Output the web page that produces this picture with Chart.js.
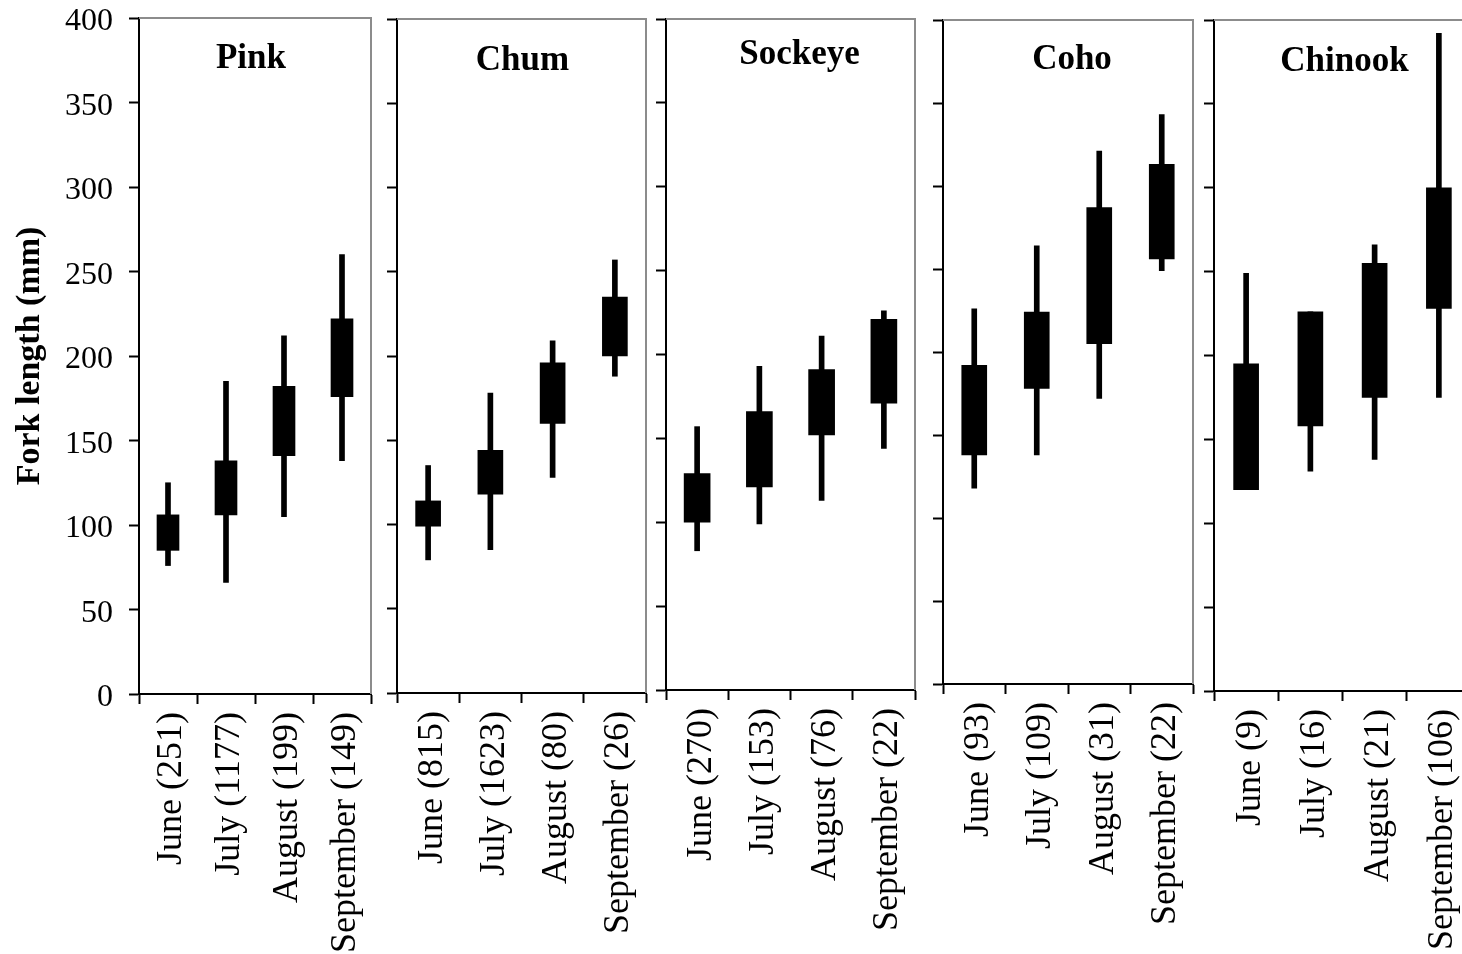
<!DOCTYPE html>
<html>
<head>
<meta charset="utf-8">
<script src="https://cdn.jsdelivr.net/npm/chart.js@4.4.1/dist/chart.umd.min.js"></script>
<style>
  html, body { margin: 0; padding: 0; background: #fff; overflow: hidden; }
  #wrap { position: relative; width: 1462px; height: 954px; overflow: hidden; }
  canvas { position: absolute; top: 0; }
</style>
</head>
<body>
<div id="wrap"></div>
<script>
// panel names and month labels (sample size in brackets)
const species = ['Pink', 'Chum', 'Sockeye', 'Coho', 'Chinook'];
const pinkLabels = ['June (251)', 'July (1177)', 'August (199)', 'September (149)'];
const chumLabels = ['June (815)', 'July (1623)', 'August (80)', 'September (26)'];
const sockeyeLabels = ['June (270)', 'July (153)', 'August (76)', 'September (22)'];
const cohoLabels = ['June (93)', 'July (109)', 'August (31)', 'September (22)'];
const chinookLabels = ['June (9)', 'July (16)', 'August (21)', 'September (106)'];

const yTicks = [0, 50, 100, 150, 200, 250, 300, 350, 400];

// fork length (mm): whisker low, box low, box high, whisker high
const pinkLow = [76, 66, 105, 138];
const pinkQ1 = [85, 106, 141, 176];
const pinkQ3 = [106, 138, 182, 222];
const pinkHigh = [125, 185, 212, 260];

const chumLow = [79, 85, 128, 188];
const chumQ1 = [99, 118, 160, 200];
const chumQ3 = [114, 144, 196, 235];
const chumHigh = [135, 178, 209, 257];

const sockeyeLow = [83, 99, 113, 144];
const sockeyeQ1 = [100, 121, 152, 171];
const sockeyeQ3 = [129, 166, 191, 221];
const sockeyeHigh = [157, 193, 211, 226];

const cohoLow = [118, 138, 172, 249];
const cohoQ1 = [138, 178, 205, 256];
const cohoQ3 = [192, 224, 287, 313];
const cohoHigh = [226, 264, 321, 343];

const chinookLow = [120, 131, 138, 175];
const chinookQ1 = [120, 158, 175, 228];
const chinookQ3 = [195, 226, 255, 300];
const chinookHigh = [249, 226, 266, 392];

const panelData = [
  [pinkLabels, pinkLow, pinkQ1, pinkQ3, pinkHigh],
  [chumLabels, chumLow, chumQ1, chumQ3, chumHigh],
  [sockeyeLabels, sockeyeLow, sockeyeQ1, sockeyeQ3, sockeyeHigh],
  [cohoLabels, cohoLow, cohoQ1, cohoQ3, cohoHigh],
  [chinookLabels, chinookLow, chinookQ1, chinookQ3, chinookHigh],
];

// where each panel sits on the page
const panelBox = [
  { left: 139, right: 371, top: 18, bottom: 694, axisW: 139, bar: 22, dx: -4, dy: 50 },
  { left: 397, right: 646, top: 19, bottom: 693, axisW: 14, bar: 25, dx: 1, dy: 51 },
  { left: 666, right: 915, top: 19, bottom: 690, axisW: 14, bar: 26, dx: 9, dy: 45 },
  { left: 943, right: 1193, top: 20, bottom: 684, axisW: 14, bar: 25, dx: 4, dy: 49 },
  { left: 1214, right: 1471, top: 20, bottom: 691, axisW: 14, bar: 25, dx: 2, dy: 51 },
];

const H = 954;
const serif = '"Liberation Serif", "Times New Roman", serif';
Chart.defaults.font.family = serif;
Chart.defaults.color = '#000';

// grey frame on top/right plus the species name inside the panel
const panelDeco = {
  id: 'panelDeco',
  beforeDatasetsDraw(chart, args, opts) {
    const { ctx, chartArea: a } = chart;
    ctx.save();
    ctx.strokeStyle = '#8c8c8c';
    ctx.lineWidth = 2;
    ctx.beginPath();
    ctx.moveTo(a.left, a.top);
    ctx.lineTo(a.right, a.top);
    ctx.lineTo(a.right, a.bottom);
    ctx.stroke();
    ctx.font = 'bold 35px ' + serif;
    ctx.fillStyle = '#000';
    ctx.textAlign = 'center';
    ctx.textBaseline = 'alphabetic';
    ctx.fillText(opts.text, (a.left + a.right) / 2 + opts.dx, a.top + opts.dy);
    ctx.restore();
  }
};

const wrap = document.getElementById('wrap');

species.forEach((name, i) => {
  const box = panelBox[i];
  const [labels, low, q1, q3, high] = panelData[i];
  const x0 = box.left - box.axisW;
  const w = box.right - x0 + 4;

  const canvas = document.createElement('canvas');
  canvas.width = w;
  canvas.height = H;
  canvas.style.left = x0 + 'px';
  canvas.style.width = w + 'px';
  canvas.style.height = H + 'px';
  wrap.appendChild(canvas);

  const first = i === 0;

  new Chart(canvas, {
    type: 'bar',
    data: {
      labels: labels,
      datasets: [
        {
          data: low.map((v, k) => [v, high[k]]),
          backgroundColor: '#000',
          borderWidth: 0,
          barThickness: 5,
          grouped: false,
        },
        {
          data: q1.map((v, k) => [v, q3[k]]),
          backgroundColor: '#000',
          borderWidth: 0,
          barThickness: box.bar,
          grouped: false,
        },
      ],
    },
    options: {
      responsive: false,
      animation: false,
      devicePixelRatio: 1,
      layout: { padding: { left: 0, right: 4, top: box.top, bottom: 0 } },
      plugins: {
        legend: { display: false },
        tooltip: { enabled: false },
        panelDeco: { text: name, dx: box.dx, dy: box.dy },
      },
      scales: {
        x: {
          offset: true,
          grid: { offset: true, drawOnChartArea: false, drawTicks: true, tickLength: 10, tickWidth: 2, color: '#000' },
          border: { display: true, color: '#000', width: 2 },
          ticks: {
            autoSkip: false,
            maxRotation: 90,
            minRotation: 90,
            padding: 8,
            labelOffset: 4,
            font: { size: 36 },
          },
          afterFit: (s) => { s.height = H - box.bottom; s.paddingLeft = 0; s.paddingRight = 0; },
        },
        y: {
          min: 0,
          max: 400,
          afterBuildTicks: (s) => { s.ticks = yTicks.map((v) => ({ value: v })); },
          grid: { drawOnChartArea: false, drawTicks: true, tickLength: 10, tickWidth: 2, color: '#000' },
          border: { display: true, color: '#000', width: 2 },
          ticks: {
            display: first,
            padding: 16,
            labelOffset: 4,
            font: { size: 32 },
          },
          title: {
            display: first,
            text: 'Fork length (mm)',
            font: { size: 34, weight: 'bold' },
            padding: { top: 10, bottom: 0 },
          },
          afterFit: (s) => { s.width = box.axisW; s.paddingTop = 0; s.paddingBottom = 0; },
        },
      },
    },
    plugins: [panelDeco],
  });
});
</script>
</body>
</html>
